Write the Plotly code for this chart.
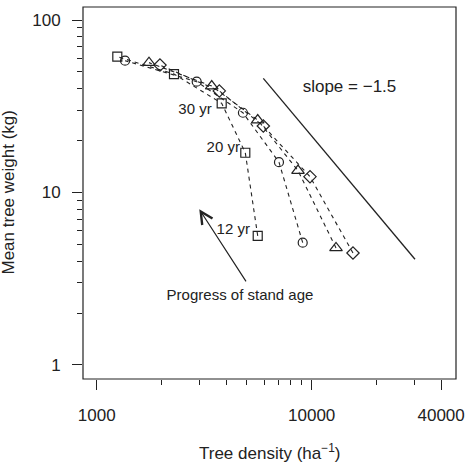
import math
import plotly.graph_objects as go

# ---- data ----
ages = ["12 yr", "20 yr", "30 yr", "older", "oldest"]
sq_density = [5610, 4911, 3814, 2288, 1247]
sq_weight = [5.6, 17.0, 32.9, 48.6, 61.3]
ci_density = [9082, 7044, 4788, 2918, 1355]
ci_weight = [5.12, 15.0, 29.0, 43.9, 58.1]
tr_density = [12975, 8636, 5610, 3428, 1751]
tr_weight = [4.77, 13.4, 26.3, 41.4, 56.6]
di_density = [15560, 9821, 5957, 3718, 1969]
di_weight = [4.46, 12.35, 24.3, 38.8, 54.8]

slope_density = [5957, 30230]
slope_weight = [45.9, 4.10]

age_label_text = ["30 yr", "20 yr", "12 yr"]
age_label_density = [2866, 3880, 4318]
age_label_weight = [30.1, 18.0, 6.06]

slope_label = "slope = \u22121.5"
slope_label_pos = (14990, 40.3)
progress_label = "Progress of stand age"
progress_label_pos = (4640, 2.51)
arrow_tail = (5000, 2.99)
arrow_tip = (3000, 8.0)

x_major = [1000, 10000, 40000]
x_minor = [2000, 3000, 4000, 5000, 6000, 7000, 8000, 9000, 20000, 30000]
y_major = [1, 10, 100]
y_minor = [2, 3, 4, 5, 6, 7, 8, 9, 20, 30, 40, 50, 60, 70, 80, 90]

INK = "#222222"
FONT = "Liberation Sans, Arial, sans-serif"

fig = go.Figure()

series = [
    (sq_density, sq_weight, "square-open", 9),
    (ci_density, ci_weight, "circle-open", 9),
    (tr_density, tr_weight, "triangle-up-open", 11),
    (di_density, di_weight, "diamond-open", 9.5),
]
for xs, ys, sym, sz in series:
    fig.add_trace(go.Scatter(
        x=xs, y=ys, mode="lines+markers",
        line=dict(color=INK, width=1.1, dash="4px,4px"),
        marker=dict(symbol=sym, size=sz, color=INK, line=dict(color=INK, width=1.2)),
        showlegend=False, hoverinfo="skip", cliponaxis=False,
    ))

fig.add_trace(go.Scatter(
    x=slope_density, y=slope_weight, mode="lines",
    line=dict(color=INK, width=1.3), showlegend=False, hoverinfo="skip",
))

fig.add_trace(go.Scatter(
    x=age_label_density, y=age_label_weight, mode="text", text=age_label_text,
    textposition="middle center", textfont=dict(family=FONT, size=15, color=INK),
    showlegend=False, hoverinfo="skip",
))
fig.add_trace(go.Scatter(
    x=[slope_label_pos[0]], y=[slope_label_pos[1]], mode="text", text=[slope_label],
    textposition="middle center", textfont=dict(family=FONT, size=17, color=INK),
    showlegend=False, hoverinfo="skip",
))
fig.add_trace(go.Scatter(
    x=[progress_label_pos[0]], y=[progress_label_pos[1]], mode="text", text=[progress_label],
    textposition="middle center", textfont=dict(family=FONT, size=15, color=INK),
    showlegend=False, hoverinfo="skip",
))

fig.add_annotation(
    x=math.log10(arrow_tip[0]), y=math.log10(arrow_tip[1]),
    ax=math.log10(arrow_tail[0]), ay=math.log10(arrow_tail[1]),
    xref="x", yref="y", axref="x", ayref="y",
    text="", showarrow=True, arrowhead=5, arrowsize=2, arrowwidth=1.2, arrowcolor=INK,
)

# axis titles
fig.add_annotation(
    text="Tree density (ha<sup>\u22121</sup>)", xref="paper", yref="paper",
    x=0.5, y=0, yshift=-73, xanchor="center", yanchor="middle", showarrow=False,
    font=dict(family=FONT, size=17, color=INK),
)
fig.add_annotation(
    text="Mean tree weight (kg)", xref="paper", yref="paper", textangle=-90,
    x=0, y=0.5, xshift=-75.5, xanchor="center", yanchor="middle", showarrow=False,
    font=dict(family=FONT, size=17, color=INK),
)

# box
fig.add_shape(type="rect", xref="paper", yref="paper", x0=0, y0=0, x1=1, y1=1,
              line=dict(color=INK, width=1.2), layer="above")

axis_common = dict(
    type="log", showgrid=False, zeroline=False, showline=False, automargin=False,
    ticks="outside", ticklen=10, tickwidth=1.1, tickcolor=INK,
    tickfont=dict(family=FONT, size=17, color=INK),
    tickmode="array",
)

fig.update_xaxes(
    range=[2.9363, 4.6712], tickvals=x_major, ticktext=[str(v) for v in x_major],
    minor=dict(tickvals=x_minor, ticks="outside", ticklen=5, tickwidth=1.1, tickcolor=INK, showgrid=False),
    ticklabelstandoff=11, **axis_common,
)
fig.update_yaxes(
    range=[-0.0812, 2.0754], tickvals=y_major, ticktext=[str(v) for v in y_major],
    minor=dict(tickvals=y_minor, ticks="outside", ticklen=5, tickwidth=1.1, tickcolor=INK, showgrid=False),
    ticklabelstandoff=8, **axis_common,
)

fig.update_layout(
    width=465, height=465,
    margin=dict(l=83, r=9, t=7, b=86, autoexpand=False),
    paper_bgcolor="white", plot_bgcolor="white",
    font=dict(family=FONT, color=INK),
    showlegend=False,
)

fig.write_html("out.html")
